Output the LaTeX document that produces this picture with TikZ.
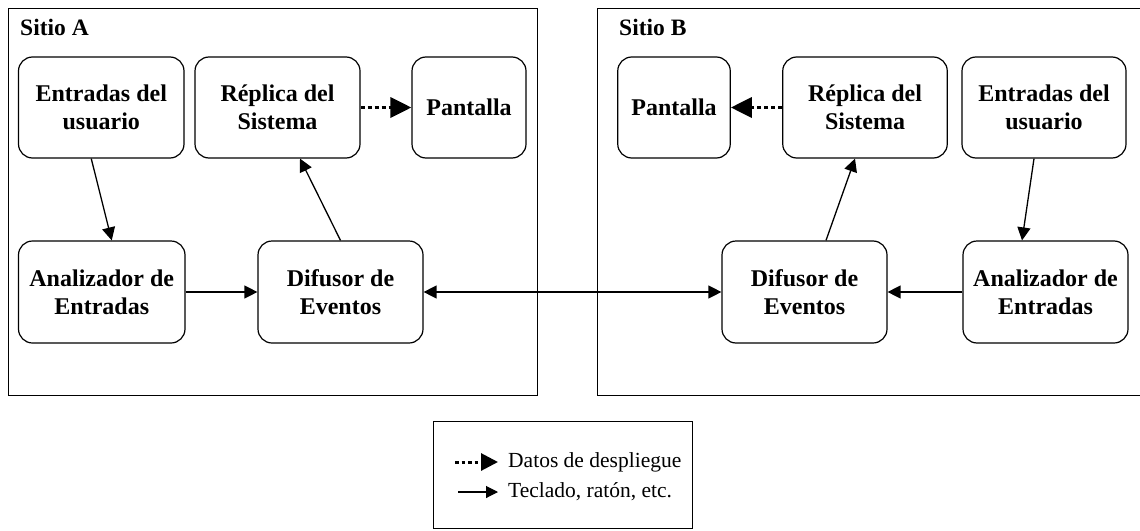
\documentclass[tikz,border=0pt]{standalone}
\usepackage{fontspec}
\setmainfont{Liberation Serif}
\usetikzlibrary{arrows.meta,calc}
\begin{document}
\begin{tikzpicture}[x=1pt,y=-1pt,
  box/.style={draw, line width=1.2pt, rounded corners=14pt, align=center,
    inner sep=0pt, font=\fontsize{24}{28}\selectfont\bfseries},
  frame/.style={draw, line width=1pt},
  sitio/.style={anchor=base west, inner sep=0pt, font=\fontsize{23.5}{26}\selectfont\bfseries},
  flow/.style={line width=1.3pt, -{Triangle[length=13pt,width=13pt]}},
  flowboth/.style={line width=1.3pt, {Triangle[length=13pt,width=13pt]}-{Triangle[length=13pt,width=13pt]}},
  display/.style={line width=3.5pt, dash pattern=on 4pt off 3pt, -{Triangle[length=21pt,width=20pt]}},
  legtext/.style={anchor=west, inner sep=0pt, font=\fontsize{21.5}{24}\selectfont}
]
\useasboundingbox (0,0) rectangle (1140,530);

% site frames
\draw[frame] (8,8) rectangle (537,395);
\draw[frame] (597,8) rectangle (1145,395);
\node[sitio] (sa) at (20,35) {Sitio A};
\node[sitio] (sb) at (619,35) {Sitio B};

% site A
\node[box, minimum width=165.5pt, minimum height=101pt] (ent) at (101.25,107.5) {Entradas del\\usuario};
\node[box, minimum width=165pt, minimum height=101pt] (rep) at (277.5,107.5) {Réplica del\\Sistema};
\node[box, minimum width=114pt, minimum height=101pt] (pan) at (469,107.5) {Pantalla};
\node[box, minimum width=166.5pt, minimum height=102pt] (ana) at (101.75,292) {Analizador de\\Entradas};
\node[box, minimum width=165pt, minimum height=102pt] (dif) at (340.5,292) {Difusor de\\Eventos};

% site B
\node[box, minimum width=112.5pt, minimum height=101pt] (panB) at (674,107.5) {Pantalla};
\node[box, minimum width=164.5pt, minimum height=101pt] (repB) at (865,107.5) {Réplica del\\Sistema};
\node[box, minimum width=164pt, minimum height=101pt] (entB) at (1044,107.5) {Entradas del\\usuario};
\node[box, minimum width=165pt, minimum height=102pt] (difB) at (804.5,292) {Difusor de\\Eventos};
\node[box, minimum width=165pt, minimum height=102pt] (anaB) at (1045.5,292) {Analizador de\\Entradas};

% connectors, site A
\draw[flow] ($(ent.south)+(-10,0)$) -- ($(ana.north)+(10,0)$);
\draw[flow] (ana.east) -- (dif.west);
\draw[flow] (dif.north) -- ($(rep.south)+(22.5,0)$);
\draw[display] (rep.east) -- (pan.west);

% connectors, site B
\draw[flow] ($(entB.south)+(-10,0)$) -- ($(anaB.north)+(-23.5,0)$);
\draw[flow] (anaB.west) -- (difB.east);
\draw[flow] ($(difB.north)+(21.5,0)$) -- ($(repB.south)+(-10,0)$);
\draw[display] (repB.west) -- (panB.east);

% link between the two sites
\draw[flowboth] (dif.east) -- (difB.west);

% legend
\draw[line width=0.9pt] (433,421) rectangle (692,528);
\coordinate (l1a) at (455,462);
\coordinate (l1b) at (498,462);
\coordinate (l2a) at (458,492);
\coordinate (l2b) at (498,492);
\draw[line width=3pt, dash pattern=on 3.5pt off 3pt, -{Triangle[length=17pt,width=17pt]}] (l1a) -- (l1b);
\draw[line width=1.1pt, -{Triangle[length=12pt,width=12pt]}] (l2a) -- (l2b);
\node[legtext] (lt1) at (508,462) {Datos de despliegue};
\node[legtext] (lt2) at (508,492) {Teclado, ratón, etc.};
\end{tikzpicture}
\end{document}
